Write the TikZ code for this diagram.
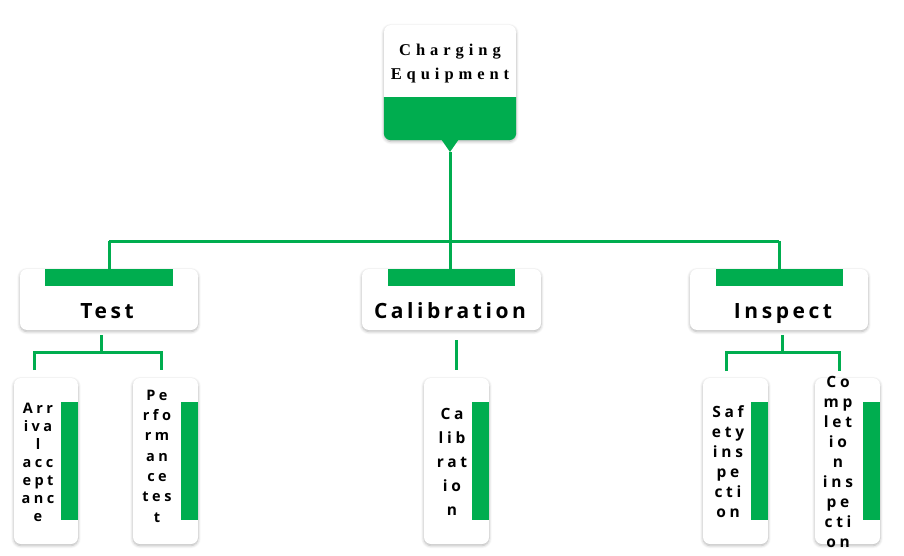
\documentclass[tikz,border=0pt]{standalone}
\usepackage{fontspec}
\setmainfont{Liberation Serif}
\newfontfamily\labf[LetterSpace=17]{Open Sans}
\newfontfamily\labt[LetterSpace=24]{Open Sans}
\newfontfamily\rootf[LetterSpace=30]{Liberation Serif}
\usetikzlibrary{shadows.blur}
\definecolor{grn}{RGB}{0,173,79}
\begin{document}
\begin{tikzpicture}[x=1pt,y=-1pt,
  card/.style={draw=none, fill=white, rounded corners=7pt, inner sep=0pt,
    blur shadow={shadow blur steps=6, shadow xshift=0pt, shadow yshift=-1.5pt, shadow opacity=30, shadow blur radius=3pt}},
  link/.style={draw=grn, line width=3pt},
  bar/.style={fill=grn},
  rootlbl/.style={font=\fontsize{16.5}{24}\rootf\bfseries, anchor=base, inner sep=0pt},
  onelbl/.style={font=\fontsize{21}{24}\labf\bfseries, anchor=base, inner sep=0pt},
  twolbl/.style={align=center, inner sep=0pt, anchor=center},
]
\useasboundingbox (0,0) rectangle (904,556);

% connectors
\coordinate (tip) at (450,152);
\coordinate (bus) at (450,241);
\coordinate (ts1) at (101,335);
\coordinate (ts2) at (101,352);
\coordinate (ta) at (34,370);
\coordinate (tb) at (161,370);
\coordinate (cs1) at (456,340);
\coordinate (cs2) at (456,370);
\coordinate (is1) at (782,335);
\coordinate (is2) at (782,352);
\coordinate (ia) at (726,371);
\coordinate (ib) at (839,371);

% root
\node[card, minimum width=132pt, minimum height=115pt] (root) at (450,82.5) {};
\begin{scope}
  \clip (380,98) rectangle (520,145);
  \fill[grn, rounded corners=7pt] (root.north west) rectangle (root.south east);
\end{scope}
\fill[grn] (441,139) -- (459,139) -- (tip) -- cycle;
\node[rootlbl] (rt1) at (450,56) {Charging};
\node[rootlbl] (rt2) at (450,80) {Equipment};

% level 1
\node[card, minimum width=178pt, minimum height=61pt] (test) at (109,299.5) {};
\node[card, minimum width=179pt, minimum height=61pt] (cal) at (451.5,299.5) {};
\node[card, minimum width=178pt, minimum height=61pt] (insp) at (779,299.5) {};

\draw[link] (tip) -- (bus);
\draw[link] (test.north |- bus) -- (insp.north |- bus);
\draw[link] (test.north |- bus) -- (test.north);
\draw[link] (bus) -- (cal.north -| bus);
\draw[link] (insp.north |- bus) -- (insp.north);

\fill[bar] ([xshift=25pt]test.north west) rectangle ([xshift=-25pt,yshift=-17pt]test.north east);
\fill[bar] ([xshift=26pt]cal.north west) rectangle ([xshift=-26pt,yshift=-17pt]cal.north east);
\fill[bar] ([xshift=26pt]insp.north west) rectangle ([xshift=-25pt,yshift=-17pt]insp.north east);

\node[onelbl] (testl) at (107,318) {Test};
\node[onelbl] (call) at (450,318) {Calibration};
\node[onelbl] (inspl) at (783,318) {Inspect};

% level 1 -> level 2 connectors
\draw[link] (ts1) -- (ts2);
\draw[link] (ta) |- (ts2) -| (tb);
\draw[link] (cs1) -- (cs2);
\draw[link] (is1) -- (is2);
\draw[link] (ia) |- (is2) -| (ib);

% level 2
\node[card, minimum width=64pt, minimum height=166pt] (arr) at (46,461) {};
\node[card, minimum width=65pt, minimum height=166pt] (perf) at (165.5,461) {};
\node[card, minimum width=65pt, minimum height=166pt] (calc) at (456.5,461) {};
\node[card, minimum width=65pt, minimum height=166pt] (safe) at (735.5,461) {};
\node[card, minimum width=65pt, minimum height=166pt] (comp) at (847.5,461) {};

\foreach \n in {arr,perf,calc,safe,comp}{
  \fill[bar] ([xshift=-17pt,yshift=-24pt]\n.north east) rectangle ([yshift=24pt]\n.south east);
}

\node[twolbl, font=\fontsize{14.5}{18}\labt\bfseries] (arrl) at (38,462) {Arr\\iva\\l\\acc\\ept\\anc\\e};
\node[twolbl, font=\fontsize{14.5}{20.3}\labt\bfseries] (perfl) at (157,456) {Pe\\rfo\\rm\\an\\ce\\tes\\t};
\node[twolbl, font=\fontsize{15.5}{24}\labt\bfseries] (calcl) at (452,462) {Ca\\lib\\rat\\io\\n};
\node[twolbl, font=\fontsize{15.5}{20}\labt\bfseries] (safel) at (728,462) {Saf\\ety\\ins\\pe\\cti\\on};
\node[twolbl, font=\fontsize{15.5}{20}\labt\bfseries] (compl) at (838,462) {Co\\mp\\let\\io\\n\\ins\\pe\\cti\\on};
\end{tikzpicture}
\end{document}
